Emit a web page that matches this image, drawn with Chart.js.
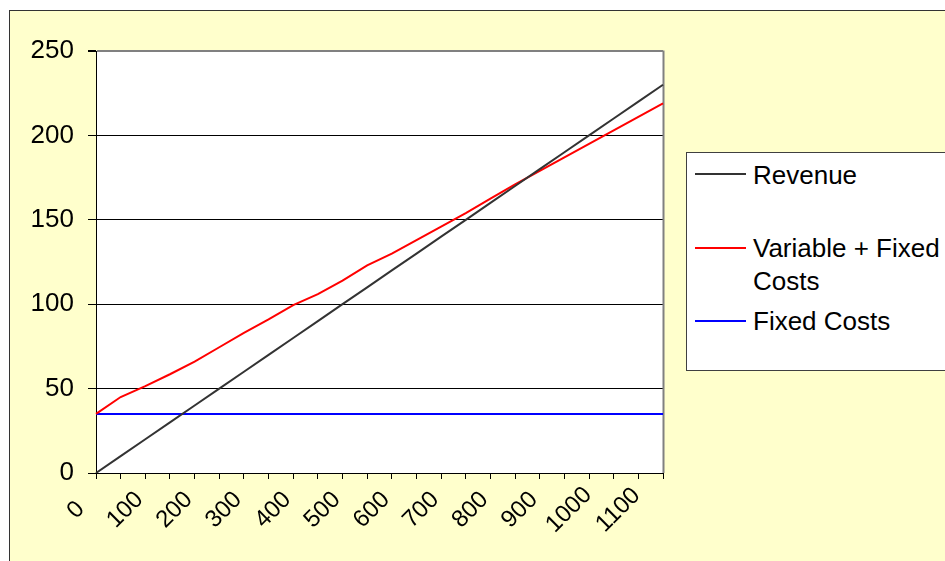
<!DOCTYPE html>
<html><head><meta charset="utf-8">
<script src="https://cdn.jsdelivr.net/npm/chart.js@4.4.0/dist/chart.umd.min.js"></script>
<style>
html,body{margin:0;padding:0;background:#fff;overflow:hidden;width:945px;height:561px;position:relative;}
#frame{position:absolute;left:9px;top:10px;width:1000px;height:600px;background:#FFFFCC;border:1px solid #333;}
#c{position:absolute;left:0;top:0;}
#legend{position:absolute;left:686px;top:152px;width:300px;height:219px;background:#fff;border:1px solid #404040;box-sizing:border-box;}
.item-line{position:absolute;left:8px;width:51px;height:2px;}
.item-text{position:absolute;left:66px;width:200px;font:26px/33px "Liberation Sans",Arial,sans-serif;color:#000;white-space:normal;}
</style></head>
<body>
<div id="frame"></div>
<canvas id="c" width="945" height="561"></canvas>
<div id="legend"></div>
<script>
const categories = ['0','50','100','150','200','250','300','350','400','450','500','550','600','650','700','750','800','850','900','950','1000','1050','1100','1150'];
const revenue = [0,10,20,30,40,50,60,70,80,90,100,110,120,130,140,150,160,170,180,190,200,210,220,230];
const variableFixedCosts = [35,45,51.5,58.5,66,74.5,83,91,99.5,106,114,123,130,138,146,154,162.5,171,179,187,195,203,211,219];
const fixedCosts = [35,35,35,35,35,35,35,35,35,35,35,35,35,35,35,35,35,35,35,35,35,35,35,35];
const seriesNames = ['Revenue','Variable + Fixed Costs','Fixed Costs'];
const seriesColors = ['#333333','#FF0000','#0000FF'];
const yTicks = [0,50,100,150,200,250];

const FONT = '"Liberation Sans", Arial, sans-serif';

const plotFrame = {
  id: 'plotFrame',
  beforeDraw(chart) {
    const {ctx, chartArea: a} = chart;
    ctx.save();
    ctx.fillStyle = '#ffffff';
    ctx.fillRect(a.left, a.top, a.right - a.left, a.bottom - a.top);
    ctx.restore();
  },
  beforeDatasetsDraw(chart) {
    const {ctx, chartArea: a} = chart;
    ctx.save();
    ctx.strokeStyle = '#808080';
    ctx.lineWidth = 2;
    ctx.beginPath();
    ctx.moveTo(a.right + 0.5, a.top - 0.5);
    ctx.lineTo(a.right + 0.5, a.bottom);
    ctx.stroke();
    ctx.restore();
  },
  // Excel-style rotated category labels: centred on a point just below/left of each tick
  afterDraw(chart) {
    const {ctx} = chart;
    const s = chart.scales.x;
    ctx.save();
    ctx.fillStyle = '#000';
    ctx.font = '24px ' + FONT;
    ctx.textAlign = 'center';
    ctx.textBaseline = 'middle';
    s.ticks.forEach((t, i) => {
      if (i % 2 !== 0) return;
      const label = s.getLabelForValue(t.value);
      const x = s.getPixelForTick(i);
      ctx.save();
      ctx.translate(x - 20, s.top + 37);
      ctx.rotate(-Math.PI / 4);
      ctx.fillText(label, 0, 0);
      ctx.restore();
    });
    ctx.restore();
  }
};

const data = {
  labels: categories,
  datasets: [revenue, variableFixedCosts, fixedCosts].map((vals, i) => ({
    label: seriesNames[i],
    data: vals,
    borderColor: seriesColors[i],
    backgroundColor: seriesColors[i],
    borderWidth: 2,
    pointRadius: 0,
    tension: 0,
    fill: false
  }))
};

new Chart(document.getElementById('c'), {
  type: 'line',
  data,
  plugins: [plotFrame],
  options: {
    responsive: false,
    animation: false,
    devicePixelRatio: 1,
    layout: {padding: {top: 51, right: 282, left: 0, bottom: 0}},
    plugins: {legend: {display: false}, tooltip: {enabled: false}},
    scales: {
      x: {
        type: 'category',
        offset: false,
        afterFit: s => { s.height = 88; },
        border: {color: '#000', width: 1},
        grid: {drawOnChartArea: false, drawTicks: true, tickLength: 6, tickColor: '#000', offset: false},
        ticks: {display: false, autoSkip: false, maxRotation: 0, minRotation: 0}
      },
      y: {
        min: 0, max: 250,
        afterFit: s => { s.width = 96; },
        afterBuildTicks: s => { s.ticks = yTicks.map(v => ({value: v})); },
        border: {color: '#000', width: 1},
        grid: {
          color: c => (c.tick && c.tick.value === 250 ? '#808080' : '#000'),
          lineWidth: c => (c.tick && c.tick.value === 250 ? 2 : 1),
          tickColor: '#000', tickLength: 8
        },
        ticks: {font: {family: FONT, size: 26}, color: '#000', padding: 14}
      }
    }
  }
});

const legend = document.getElementById('legend');
const lineTops = [20.3, 93.7, 167];
const textTops = [5.5, 78.5, 151.5];
seriesNames.forEach((name, i) => {
  const l = document.createElement('div');
  l.className = 'item-line';
  l.style.top = lineTops[i] + 'px';
  l.style.background = seriesColors[i];
  legend.appendChild(l);
  const t = document.createElement('div');
  t.className = 'item-text';
  t.style.top = textTops[i] + 'px';
  t.textContent = name;
  legend.appendChild(t);
});
</script>
</body></html>
